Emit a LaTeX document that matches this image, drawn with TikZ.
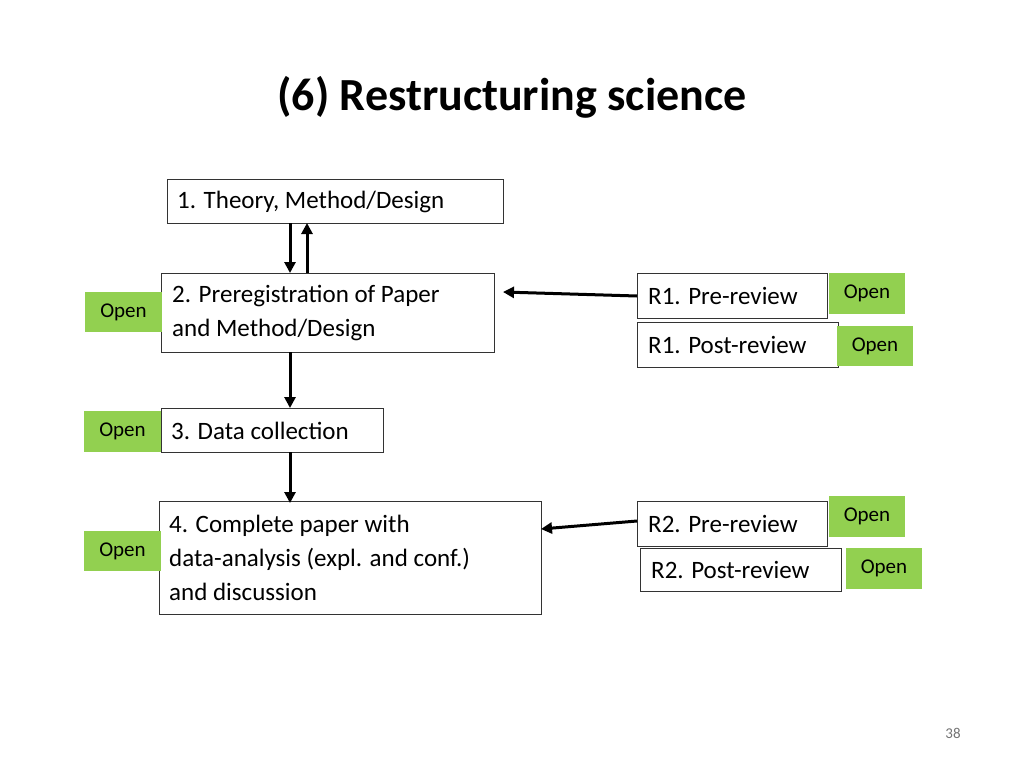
\documentclass[tikz,border=0pt]{standalone}
\usepackage{fontspec}
\setmainfont{Carlito}
\usetikzlibrary{arrows.meta}
\definecolor{opengreen}{HTML}{92D050}
\begin{document}
\begin{tikzpicture}[x=1pt,y=-1pt,
  box/.style={draw=black!80,line width=0.8pt,inner sep=0pt},
  txt/.style={anchor=west,align=left,font=\fontsize{25}{34}\selectfont,inner sep=0pt},
  open/.style={fill=opengreen,inner sep=0pt},
  opentxt/.style={font=\fontsize{21}{24}\selectfont,inner sep=0pt},
  arr/.style={line width=3pt,-{Triangle[length=11pt,width=11pt]}}]
\useasboundingbox (0,0) rectangle (1024,768);
\node[font=\bfseries\fontsize{46}{50}\selectfont] (title) at (512,97) {(6) Restructuring science};
% boxes
\draw[box] (167,179) rectangle (503,223); \node[txt] (b1) at (177,202) {1. Theory, Method/Design};
\coordinate (b1a) at (290,223); \coordinate (b1b) at (307,223);
\draw[box] (161,273) rectangle (494,352); \node[txt] (b2) at (172,313) {2. Preregistration of Paper\\and Method/Design};
\coordinate (b2a) at (290,273); \coordinate (b2b) at (307,273);
\coordinate (b2c) at (290,352); \coordinate (b2r) at (503,292);
\draw[box] (161,408) rectangle (383,452); \node[txt] (b3) at (171,431) {3. Data collection};
\coordinate (b3t) at (290,408); \coordinate (b3b) at (290,452);
\draw[box] (159,501) rectangle (541,614); \node[txt] (b4) at (169,558) {4. Complete paper with\\data-analysis (expl. and conf.)\\and discussion};
\coordinate (b4t) at (290,503); \coordinate (b4r) at (541,529);
\draw[box] (637,273) rectangle (827,318); \node[txt] (r1a) at (648,296) {R1. Pre-review};
\coordinate (r1al) at (637,296);
\draw[box] (637,322) rectangle (838,367); \node[txt] (r1b) at (648,345) {R1. Post-review};
\draw[box] (637,501) rectangle (827,546); \node[txt] (r2a) at (648,524) {R2. Pre-review};
\coordinate (r2al) at (637,521);
\draw[box] (640,548) rectangle (841,591); \node[txt] (r2b) at (651,570) {R2. Post-review};
% open tags
\foreach \n/\xa/\ya/\xb/\yb in {o1/85/292/162/332, o2/84/411/161/452, o3/84/531/161/571, o4/829/273/905/314, o5/837/326/913/366, o6/829/496/905/537, o7/846/548/922/589}{
  \fill[open] (\xa,\ya) rectangle (\xb,\yb);
  \node[opentxt] (\n) at ({(\xa+\xb)/2},{(\ya+\yb)/2}) {Open};
}
% arrows
\draw[arr] (b1a) -- (b2a);
\draw[arr] (b2b) -- (b1b);
\draw[arr] (b2c) -- (b3t);
\draw[arr] (b3b) -- (b4t);
\draw[arr] (r1al) -- (b2r);
\draw[arr] (r2al) -- (b4r);
\node[font=\fontsize{15}{18}\selectfont,text=black!55] (pg) at (953,733) {38};
\end{tikzpicture}
\end{document}
